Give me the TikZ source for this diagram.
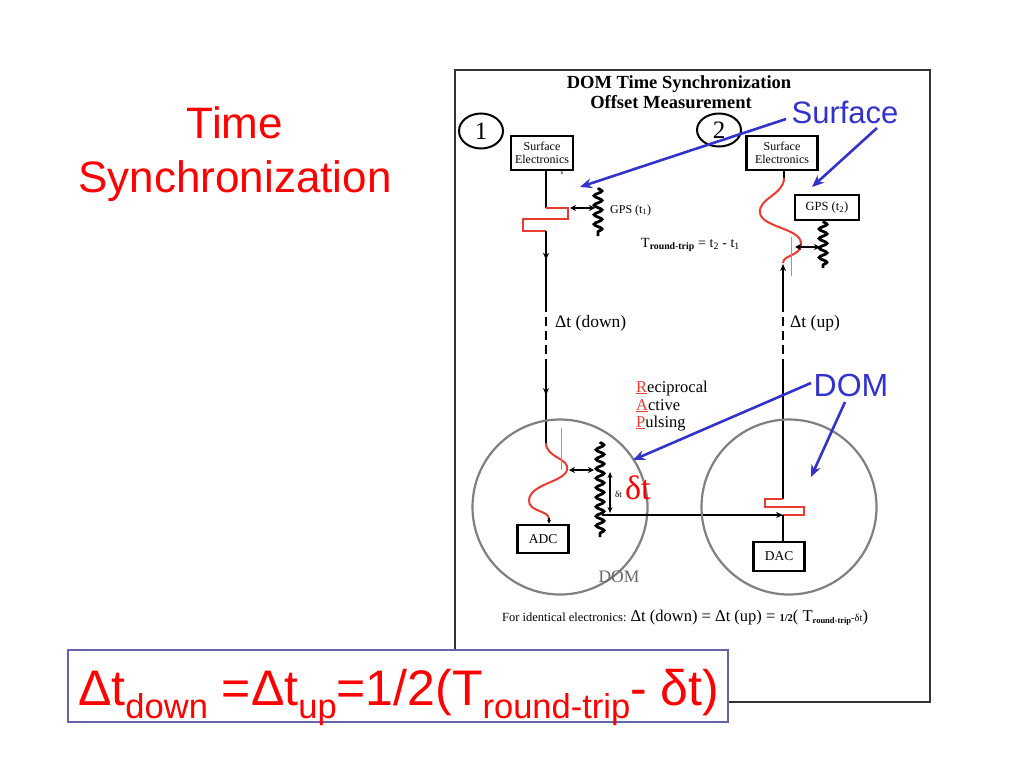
\documentclass[tikz,border=0pt]{standalone}
\usepackage{fontspec}
\setmainfont{Liberation Serif}
\newfontfamily\arialf{Liberation Sans}
\usetikzlibrary{arrows.meta,decorations.pathmorphing,decorations.markings,shapes.geometric}
\definecolor{annblue}{RGB}{51,51,204}
\definecolor{wirered}{RGB}{232,60,50}
\definecolor{titlered}{RGB}{255,0,0}
\definecolor{boxblue}{RGB}{100,100,170}
\newcommand{\fsz}[1]{\fontsize{#1}{#1}\selectfont}
\newcommand{\lsub}[1]{\raisebox{-13pt}{\fsz{34.5}#1}}
\begin{document}
\begin{tikzpicture}[x=1pt,y=-1pt,
  blk/.style={line width=2.8pt, draw=black},
  wire/.style={line width=2pt, draw=wirered},
  coil/.style={line width=2.8pt, draw=black, decorate, decoration={snake, segment length=9.5pt, amplitude=4pt}},
  elbox/.style={draw=black, line width=2.6pt, fill=white, inner sep=0pt, align=center},
  domc/.style={circle, draw=black!50, line width=2.2pt, minimum size=175pt, inner sep=0pt},
  dbl/.style={line width=2pt, draw=black, {Stealth[length=6pt,width=6pt]}-{Stealth[length=6pt,width=6pt]}},
  midarrow/.style={postaction={decorate}, decoration={markings, mark=at position #1 with {\arrow{Stealth[length=7pt,width=6pt]}}}},
  annarr/.style={draw=annblue, line width=2.6pt, -{Stealth[length=12pt,width=10pt]}},
  dtext/.style={font=\fsz{17.5}, inner sep=0pt, anchor=base west},
  dash8/.style={dash pattern=on 9pt off 5pt},
]
\useasboundingbox (0,0) rectangle (1024,768);
\fill[white] (0,0) rectangle (1024,768);

% left title
\node[font=\arialf\fsz{44}, text=titlered, anchor=base, inner sep=0] (tt1) at (235,138) {Time};
\node[font=\arialf\fsz{44}, text=titlered, anchor=base, inner sep=0] (tt2) at (235,192) {Synchronization};

% frame of the figure
\draw[line width=1.8pt, draw=black!80] (455,70) rectangle (930,702);
\node[font=\bfseries\fsz{18.5}, anchor=base, inner sep=0] (ttl1) at (679,88) {DOM Time Synchronization};
\node[font=\bfseries\fsz{18.5}, anchor=base, inner sep=0] (ttl2) at (671,108) {Offset Measurement};

\node[draw, ellipse, line width=2pt, minimum width=44pt, minimum height=35pt, inner sep=0pt, font=\fsz{25}] (num1) at (481,131) {1};
\node[draw, ellipse, line width=2pt, minimum width=44pt, minimum height=33pt, inner sep=0pt, font=\fsz{25}] (num2) at (719,130) {2};

% ---------- path 1
\node[elbox, minimum width=62pt, minimum height=34pt, font=\fontsize{12}{12.5}\selectfont] (se1) at (542,153) {Surface\\Electronics};
\node[font=\fsz{7}, inner sep=0pt] (smalls) at (562,173) {s};
\coordinate (a1) at (546,208);
\coordinate (a2) at (546,231);
\coordinate (a3) at (546,303);
\coordinate (a4) at (546,367);
\coordinate (a5) at (546,443);
\draw[blk] ([xshift=4pt]se1.south) -- (a1);
\draw[wire] (a1) -- (568,208) -- (568,219) -- (523,219) -- (523,231) -- (a2);
\draw[blk, midarrow=0.4] (a2) -- (a3);
\draw[blk, dash8] (a3) -- (a4);
\draw[blk, midarrow=0.37] (a4) -- (a5);
\coordinate (g1t) at (598,188);
\coordinate (g1b) at (598,236);
\draw[coil] (g1t) -- (g1b);
\draw[dbl] (570,208) -- (595,208);
\node[font=\fsz{12}, anchor=base west, inner sep=0pt] (gps1) at (610,213) {GPS (t\textsubscript{1})};
\node[font=\fsz{14}, anchor=base west, inner sep=0pt] (trt) at (641,247) {T\textsubscript{\textbf{round-trip}} = t\textsubscript{2} - t\textsubscript{1}};
\node[dtext] (dtdown) at (555,327) {Δt (down)};

% ---------- path 2
\node[elbox, minimum width=71pt, minimum height=34pt, font=\fontsize{12}{12.5}\selectfont] (se2) at (782,153) {Surface\\Electronics};
\coordinate (b0) at (784,178);
\coordinate (b1) at (783,263);
\coordinate (b2) at (783,303);
\coordinate (b3) at (783,367);
\coordinate (b4) at (783,499);
\draw[blk] ([xshift=2pt]se2.south) -- (b0);
\draw[wire] (b0) .. controls (784,195) and (758,198) .. (760,213) .. controls (762,228) and (803,228) .. (801,245) .. controls (800,256) and (783,255) .. (b1);
\draw[blk, -{Stealth[length=7pt,width=6pt]}] (b2) -- (783,264);
\draw[blk, dash8] (b2) -- (b3);
\draw[blk] (b3) -- (b4);
\node[elbox, minimum width=64pt, minimum height=25pt, font=\fsz{12.5}] (gps2) at (827,207.5) {GPS (t\textsubscript{2})};
\coordinate (g2b) at (823,268);
\draw[coil] ([xshift=-4pt]gps2.south) -- (g2b);
\draw[dbl] (795,247) -- (820,247);
\draw[black!40, line width=0.7pt] (791,237) -- (791,276);
\node[dtext] (dtup) at (790,327) {Δt (up)};

% RAP text
\node[font=\fsz{16.5}, inner sep=0pt, anchor=base west] (rap1) at (636,392) {\textcolor{wirered}{\underline{R}}eciprocal};
\node[font=\fsz{16.5}, inner sep=0pt, anchor=base west] (rap2) at (636,410) {\textcolor{wirered}{\underline{A}}ctive};
\node[font=\fsz{16.5}, inner sep=0pt, anchor=base west] (rap3) at (636,427) {\textcolor{wirered}{\underline{P}}ulsing};

% ---------- left DOM
\node[domc] (dom1) at (560,507) {};
\node[elbox, minimum width=51pt, minimum height=28pt, font=\fsz{13.5}] (adc) at (543,539) {ADC};
\draw[wire] (a5) .. controls (546,458) and (570,458) .. (567,470) .. controls (564,482) and (530,484) .. (529,500) .. controls (528,512) and (549,510) .. (549,519);
\draw[black, line width=1.4pt, -{Stealth[length=4pt,width=4pt]}] (549,518) -- ([xshift=6pt]adc.north);
\draw[black!40, line width=0.7pt] (561,428) -- (561,470);
\draw[dbl] (569,470) -- (594,470);
\coordinate (c1t) at (600,442);
\coordinate (c1b) at (600,537);
\draw[coil] (c1t) -- (c1b);
\draw[line width=1.5pt, {Stealth[length=6pt,width=5pt]}-{Stealth[length=6pt,width=5pt]}] (610,472) -- (610,513);
\node[font=\fsz{9}, anchor=base west, inner sep=0pt] (sdt) at (615,497) {δt};
\node[font=\fsz{34}, text=titlered, anchor=base west, inner sep=0pt] (bigdt) at (625,499) {δt};
\coordinate (h1) at (602,515);
\coordinate (h2) at (783,515);
\draw[blk, -{Stealth[length=7pt,width=6pt]}] (h1) -- (h2);
\node[font=\fsz{17.5}, text=black!60, inner sep=0pt] (domlbl) at (619,577) {DOM};

% ---------- right DOM
\node[domc] (dom2) at (789,507) {};
\node[elbox, minimum width=51pt, minimum height=29pt, font=\fsz{13.5}] (dac) at (779,556.5) {DAC};
\draw[wire] (b4) -- (765,499) -- (765,507) -- (804,507) -- (804,515) -- (h2);
\draw[blk] (h2) -- ([xshift=4pt]dac.north);

% bottom line of the figure
\node[anchor=base west, inner sep=0pt] (ident) at (502,621) {{\fsz{12.5}For identical electronics: }{\fsz{16.5}Δt (down) = Δt (up) = }{\fsz{10.5}\textbf{1/2}}{\fsz{16.5}( T}\raisebox{-2pt}{\fsz{8.5}\textbf{round-trip}}{\fsz{10.5}-δt}{\fsz{16.5})}};

% ---------- blue annotations
\node[font=\arialf\fsz{31}, text=annblue, inner sep=0pt] (surf) at (845,112) {Surface};
\node[font=\arialf\fsz{32}, text=annblue, inner sep=0pt] (doml) at (851,385) {DOM};
\coordinate (s1) at (786,119);
\coordinate (s2) at (877,128);
\coordinate (d1) at (811,383);
\coordinate (d2) at (845,402);
\coordinate (t1) at (580,187);
\coordinate (t2) at (812,187);
\coordinate (t3) at (633,460);
\coordinate (t4) at (811,477);
\draw[annarr] (s1) -- (t1);
\draw[annarr] (s2) -- (t2);
\draw[annarr] (d1) -- (t3);
\draw[annarr] (d2) -- (t4);

% ---------- formula box
\node[draw=boxblue, line width=1.4pt, fill=white, minimum width=660pt, minimum height=72pt, inner sep=0pt] (fbox) at (398,686) {};
\node[font=\arialf\fsz{50}, text=titlered, anchor=base west, inner sep=0pt] (formula) at (78,705) {Δt\lsub{down} =Δt\lsub{up}=1/2(T\lsub{round-trip}- δt)};
\end{tikzpicture}
\end{document}
